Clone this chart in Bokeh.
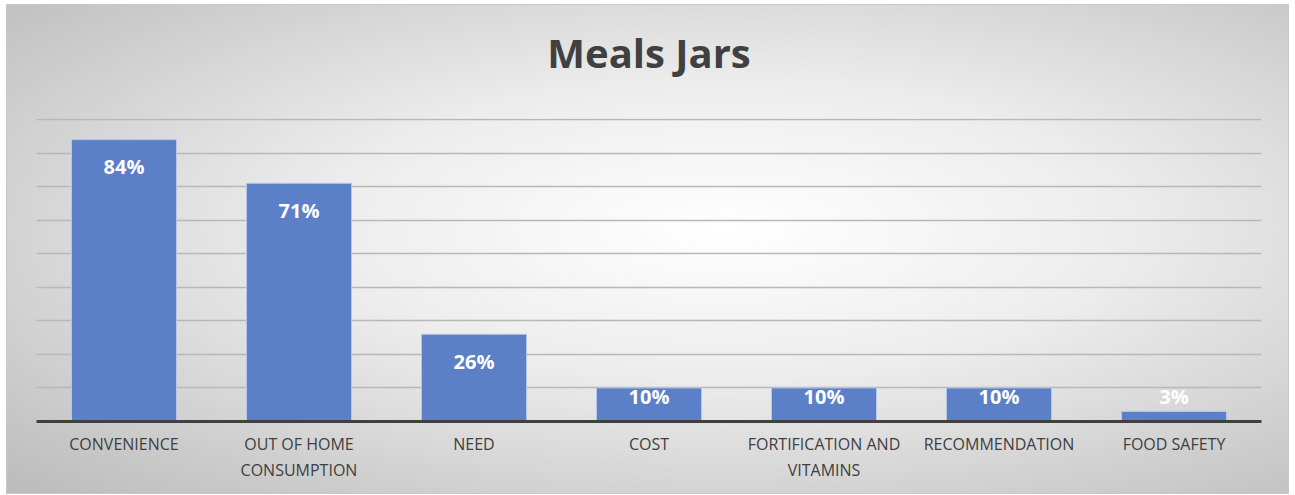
from bokeh.plotting import figure
from bokeh.models import ColumnDataSource, Range1d, FixedTicker, Title
from bokeh.core.properties import value
from bokeh.embed import file_html
from bokeh.resources import INLINE

title_text = "Meals Jars"
categories = ["CONVENIENCE", "OUT OF HOME\nCONSUMPTION", "NEED", "COST",
              "FORTIFICATION AND\nVITAMINS", "RECOMMENDATION", "FOOD SAFETY"]
values = [84, 71, 26, 10, 10, 10, 3]
labels = ["84%", "71%", "26%", "10%", "10%", "10%", "3%"]
grid_ticks = [10, 20, 30, 40, 50, 60, 70, 80, 90]

label_y = [max(v - 8.1, 7.4) for v in values]
src = ColumnDataSource(dict(cat=categories, val=values, lab=labels, ly=label_y))

Y_END = 90.3
p = figure(x_range=categories, y_range=Range1d(0, Y_END), width=1283, height=490,
           output_backend="svg", toolbar_location=None,
           min_border_left=29, min_border_right=29, min_border_top=113, min_border_bottom=74)
p.margin = (4, 0, 0, 6)

p.styles = {"background": "radial-gradient(ellipse farthest-corner at 56% 46%, #ffffff 0%, #ececec 40%, #bbbbbb 100%)",
            "border": "1px solid #c8c8c8"}
p.background_fill_alpha = 0
p.border_fill_alpha = 0
p.outline_line_color = None

# empty spacer panel between the title and the plotting frame
p.add_layout(Title(text=" ", text_font_size="10px", standoff=26), "above")

p.title.text = title_text
p.title.align = "center"
p.title.text_font = "Open Sans"
p.title.text_font_size = "40px"
p.title.text_font_style = "bold"
p.title.text_color = "#404040"
p.title.standoff = 0

p.vbar(x="cat", top="val", width=0.6, source=src, fill_color="#5b80c8",
       line_color="#b4c7e7", line_width=1)
p.text(x="cat", y="ly", text="lab", source=src, text_color="white",
       text_font=value("Open Sans"), text_font_size="20px", text_font_style="bold",
       text_align="center", text_baseline="middle")

p.xgrid.visible = False
p.ygrid.ticker = FixedTicker(ticks=grid_ticks)
p.ygrid.grid_line_color = "#b8b8b8"
p.ygrid.grid_line_width = 1.5
p.yaxis.visible = False

p.xaxis.axis_line_width = 3
p.xaxis.axis_line_color = "#404040"
p.xaxis.major_tick_line_color = None
p.xaxis.minor_tick_line_color = None
p.xaxis.major_label_standoff = 5
p.xaxis.major_label_text_font = "Open Sans"
p.xaxis.major_label_text_font_size = "16px"
p.xaxis.major_label_text_color = "#404040"

open("out.html", "w").write(file_html(p, INLINE))
